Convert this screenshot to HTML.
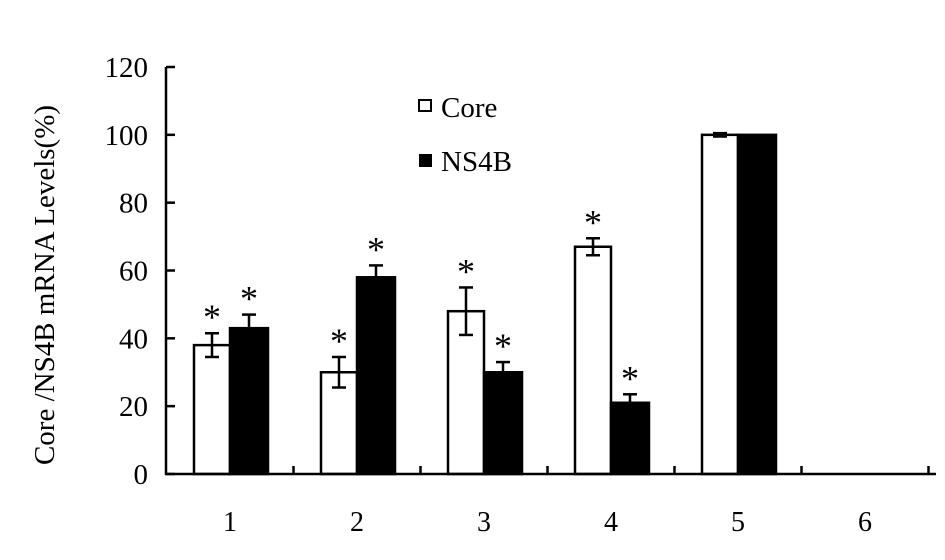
<!DOCTYPE html>
<html><head><meta charset="utf-8"><style>
body{margin:0;background:#fff}
svg{display:block;font-family:"Liberation Serif",serif}
</style></head><body>
<svg id="chart" width="945" height="560" viewBox="0 0 945 560" xmlns="http://www.w3.org/2000/svg">
<text transform="translate(54,285) rotate(-90)" text-anchor="middle" font-size="29">Core /NS4B mRNA Levels(%)</text>
<g>
<rect x="419" y="100" width="12" height="11" fill="#fff" stroke="#000" stroke-width="2"/>
<text x="441" y="117" font-size="29">Core</text>
<rect x="419" y="154" width="13" height="13" fill="#000"/>
<text x="441" y="171" font-size="29">NS4B</text>
</g>
<g id="marks"></g>
<g id="axes"></g>
</svg>
<script>
const categories=["1","2","3","4","5","6"];
const coreValues=[38,30,48,67,100,null];
const coreErrors=[3.5,4.5,7,2.5,0.5,null];
const ns4bValues=[43,58,30,21,100,null];
const ns4bErrors=[4,3.5,3,2.5,0,null];
const coreStars=[true,true,true,true,false,false];
const ns4bStars=[true,true,true,true,false,false];
const yTicks=[0,20,40,60,80,100,120];

const NS="http://www.w3.org/2000/svg";
const x0=166.5,band=127,yBase=474,yTop=67;
const y=v=>yBase-(v/120)*(yBase-yTop);
const xc=i=>x0+band*(i+0.5);
const marks=document.getElementById('marks'),axes=document.getElementById('axes');
function mk(tag,attrs,parent){const e=document.createElementNS(NS,tag);for(const k in attrs)e.setAttribute(k,attrs[k]);parent.appendChild(e);return e;}

function drawBar(i,v,err,star,isCore){
  if(v==null)return;
  const left=isCore?xc(i)-36:xc(i);
  const w=isCore?36:38;
  const r=mk('rect',{x:left,y:y(v),width:w,height:yBase-y(v),fill:isCore?'#fff':'#000',stroke:'#000','stroke-width':2.5},marks);
  
  
  const cx=left+w/2;
  if(err>0){
    const g=mk('g',{stroke:'#000','stroke-width':2.5},marks);
    
    
    const lo=isCore?y(v-err):y(v);
    mk('line',{x1:cx,x2:cx,y1:y(v+err),y2:lo},g);
    mk('line',{x1:cx-7,x2:cx+7,y1:y(v+err),y2:y(v+err)},g);
    if(isCore)mk('line',{x1:cx-7,x2:cx+7,y1:lo,y2:lo},g);
  } else if(isCore){
    const g=mk('line',{x1:cx-7,x2:cx+7,y1:y(v)+1,y2:y(v)+1,stroke:'#000','stroke-width':2.5},marks);
    
    
  }
  if(star){
    const t=mk('text',{x:cx,y:y(v+err)-4,'text-anchor':'middle','font-size':36},marks);
    
    
    t.textContent='*';
  }
}
categories.forEach((c,i)=>{drawBar(i,coreValues[i],coreErrors[i],coreStars[i],true);drawBar(i,ns4bValues[i],ns4bErrors[i],ns4bStars[i],false);});

const ya=mk('line',{x1:166,x2:166,y1:yTop,y2:yBase+1,stroke:'#000','stroke-width':2.5},axes);

const xa=mk('line',{x1:165,x2:936,y1:yBase,y2:yBase,stroke:'#000','stroke-width':2.5},axes);

yTicks.forEach(t=>{
  mk('line',{x1:166,x2:175,y1:y(t),y2:y(t),stroke:'#000','stroke-width':2.5},axes);
  const l=mk('text',{x:148,y:y(t)+10,'text-anchor':'end','font-size':29},axes);
  
  
  l.textContent=t;
});
categories.forEach((c,i)=>{
  mk('line',{x1:x0+band*(i+1),x2:x0+band*(i+1),y1:yBase,y2:yBase-8,stroke:'#000','stroke-width':2.5},axes);
  const l=mk('text',{x:xc(i),y:531,'text-anchor':'middle','font-size':28},axes);
  
  
  l.textContent=c;
});
</script>
</body></html>
